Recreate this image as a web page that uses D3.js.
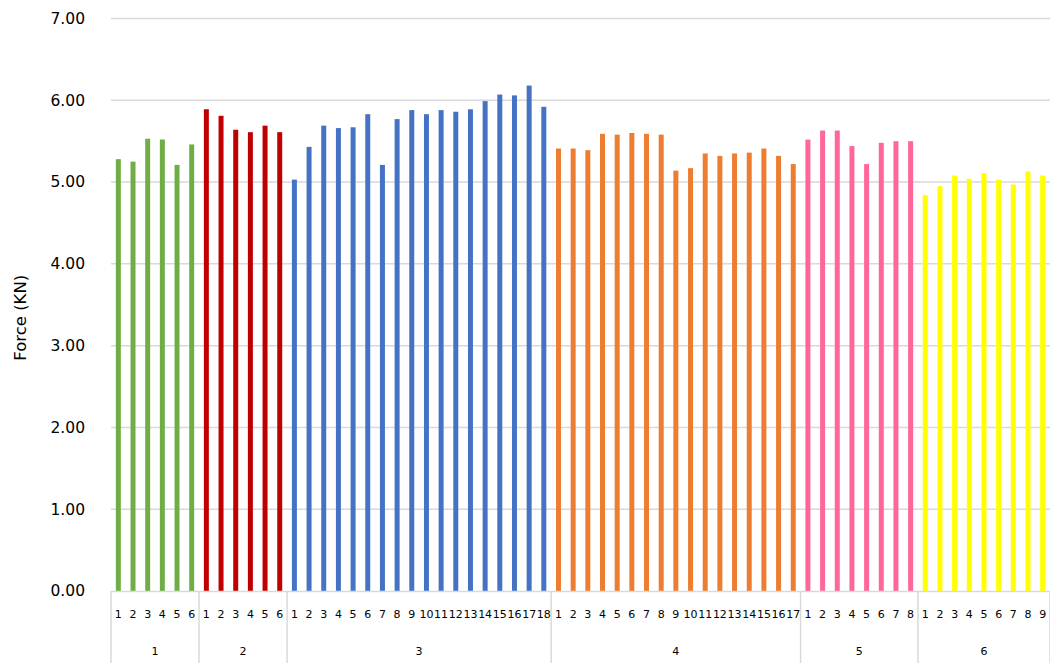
<!DOCTYPE html>
<html><head><meta charset="utf-8">
<script src="https://cdn.jsdelivr.net/npm/d3@7"></script>
<style>body{margin:0;background:#fff}svg{display:block}</style>
</head><body>
<script>
const groupNames = ["1","2","3","4","5","6"];
const groupColors = ["#70AD47","#C00000","#4472C4","#ED7D31","#FF6699","#FFFF00"];
const g1 = [5.28,5.25,5.53,5.52,5.21,5.46];
const g2 = [5.89,5.81,5.64,5.61,5.69,5.61];
const g3 = [5.03,5.43,5.69,5.66,5.67,5.83,5.21,5.77,5.88,5.83,5.88,5.86,5.89,5.99,6.07,6.06,6.18,5.92];
const g4 = [5.41,5.41,5.39,5.59,5.58,5.60,5.59,5.58,5.14,5.17,5.35,5.32,5.35,5.36,5.41,5.32,5.22];
const g5 = [5.52,5.63,5.63,5.44,5.22,5.48,5.50,5.50];
const g6 = [4.84,4.95,5.08,5.04,5.11,5.03,4.97,5.13,5.08];
const groupValues = [g1,g2,g3,g4,g5,g6];
const yTicks = [0,1,2,3,4,5,6,7];
const yTitle = "Force (KN)";

(function(){
const W = 1050, H = 663;
const mLeft = 111, mRight = 1050, mTop = 18.5, mBottom = 591;
const font = "'DejaVu Sans', Verdana, sans-serif";

const data = [];
groupValues.forEach((vals, gi) => vals.forEach((v, i) => data.push({g: gi, label: String(i+1), v, key: gi+"-"+i})));

const svg = d3.select("body").append("svg").attr("width", W).attr("height", H);
const x = d3.scaleBand().domain(data.map(d => d.key)).range([mLeft, mRight]).paddingInner(0.66).paddingOuter(0.33);
const y = d3.scaleLinear().domain([0,7]).range([mBottom, mTop]);
const step = x.step();

svg.append("g").selectAll("line").data(yTicks.filter(t => t > 0)).join("line")
  .attr("x1", mLeft).attr("x2", mRight)
  .attr("y1", d => y(d)).attr("y2", d => y(d))
  .attr("stroke", "#d9d9d9").attr("stroke-width", 1.5);

svg.append("g").selectAll("text").data(yTicks).join("text")
  .attr("x", 85).attr("y", d => y(d)).attr("dy", "0.35em")
  .attr("text-anchor", "end").attr("font-family", font).attr("font-size", 15.5)
  .attr("fill", "#000").text(d => d.toFixed(2));

svg.append("g").selectAll("rect").data(data).join("rect")
  .attr("x", d => x(d.key)).attr("width", x.bandwidth())
  .attr("y", d => y(d.v)).attr("height", d => y(0) - y(d.v))
  .attr("fill", d => groupColors[d.g]);

svg.append("line").attr("x1", mLeft).attr("x2", mRight).attr("y1", mBottom + 0.5).attr("y2", mBottom + 0.5)
  .attr("stroke", "#d9d9d9").attr("stroke-width", 1.5);

let cum = 0;
const bounds = [0];
groupValues.forEach(v => { cum += v.length; bounds.push(cum); });
svg.append("g").selectAll("line").data(bounds).join("line")
  .attr("x1", d => mLeft + d * step).attr("x2", d => mLeft + d * step)
  .attr("y1", mBottom).attr("y2", H)
  .attr("stroke", "#d9d9d9").attr("stroke-width", 1.5);

svg.append("g").selectAll("text").data(data).join("text")
  .attr("x", d => x(d.key) + x.bandwidth()/2).attr("y", 614).attr("dy", "0.35em")
  .attr("text-anchor", "middle").attr("font-family", font).attr("font-size", 11)
  .attr("fill", "#000").text(d => d.label);

svg.append("g").selectAll("text").data(groupNames).join("text")
  .attr("x", (d, i) => mLeft + (bounds[i] + bounds[i+1]) / 2 * step).attr("y", 651).attr("dy", "0.35em")
  .attr("text-anchor", "middle").attr("font-family", font).attr("font-size", 11)
  .attr("fill", "#000").text(d => d);

svg.append("text").attr("transform", `translate(26,${(mTop+mBottom)/2 + 13}) rotate(-90)`)
  .attr("text-anchor", "middle").attr("font-family", font).attr("font-size", 16.5)
  .attr("fill", "#000").text(yTitle);
})();
</script>
</body></html>
